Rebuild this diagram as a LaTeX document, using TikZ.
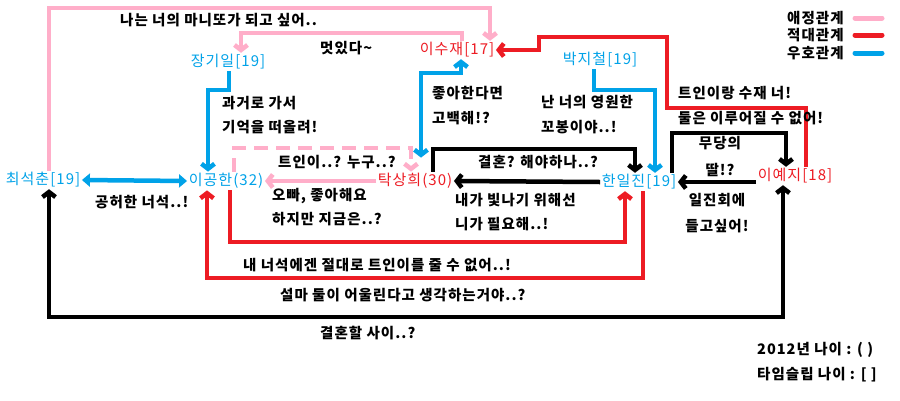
\documentclass[tikz,border=0pt]{standalone}
\usepackage{fontspec}
\setmainfont{Noto Sans CJK KR}[LetterSpace=7]
\usetikzlibrary{arrows.meta}
\definecolor{pk}{HTML}{FFAEC9}
\definecolor{rd}{HTML}{ED1C24}
\definecolor{bl}{HTML}{00A2E8}
\begin{document}
\begin{tikzpicture}[x=1pt,y=-1pt,
  lbl/.style={font=\fontsize{14.5}{16}\selectfont\bfseries, inner sep=0pt, anchor=west},
  clbl/.style={lbl, anchor=center},
  who/.style={font=\fontsize{15}{17}\selectfont, inner sep=1.5pt},
  conn/.style={line width=4.5pt},
  tipend/.style={-{Straight Barb[length=5pt,width=13pt]}},
  tipboth/.style={{Straight Barb[length=5pt,width=13pt]}-{Straight Barb[length=5pt,width=13pt]}},
  tri/.style={{Triangle[length=8pt,width=13pt]}-{Triangle[length=8pt,width=13pt]}},
  pkline/.style={conn, draw=pk},
  rdline/.style={conn, draw=rd},
  blline/.style={conn, draw=bl},
  bkline/.style={conn, draw=black},
  legline/.style={line width=5pt, line cap=round}
]
\useasboundingbox (0,0) rectangle (900,400);
\fill[white] (0,0) rectangle (900,400);

% people
\node[who, text=rd] (suj)  at (457,50)  {이수재[17]};
\node[who, text=bl] (jang) at (228,62)  {장기일[19]};
\node[who, text=bl] (park) at (600,60)  {박지철[19]};
\node[who, text=bl] (choi) at (43,180)  {최석춘[19]};
\node[who, text=bl] (gong) at (226,181) {이공한(32)};
\node[who, text=rd] (tak)  at (415,181) {탁상희(30)};
\node[who, text=bl] (han)  at (639,182) {한일진[19]};
\node[who, text=rd] (yeji) at (795,176) {이예지[18]};

% connectors
\draw[pkline, tipend] (choi.north -| 49,0) -- (49,8) -- (490,8) -- (suj.north -| 490,0);
\draw[pkline, tipend] (suj.north -| 462,0) -- (462,33) -- (241,33) -- (jang.north -| 241,0);
\draw[blline, tipend] (jang.south -| 229,0) -- (229,90) -- (208,90) -- (gong.north -| 208,0);
\draw[blline, tipboth, shorten >=14pt] (suj.south -| 461,0) -- (461,73) -- (421,73) -- (tak.north -| 421,0);
\draw[pkline, dashed, dash pattern=on 14pt off 8pt, tipend] (gong.north -| 234,0) -- (234,148) -- (411,148) -- (tak.north -| 411,0);
\draw[pkline, tipend] (tak.west) -- (gong.east);
\draw[bkline, tipend] (tak.north -| 433,0) -- (433,149) -- (635,149) -- (han.north -| 635,0);
\draw[bkline, tipend] (han.west) -- (tak.east);
\draw[blline, tipend] (park.south -| 594,0) -- (594,90) -- (655,90) -- (han.north -| 655,0);
\draw[rdline, tipend] (yeji.north -| 806,0) -- (806,108) -- (667,108) -- (667,37) -- (539,37) -- (539,50) -- (suj.east);
\draw[bkline, tipend] (han.north -| 672,0) -- (672,133) -- (786,133) -- (yeji.north -| 786,0);
\draw[bkline, tipend] (yeji.west |- han.east) -- (han.east);
\draw[rdline, tipend] (gong.south -| 230,0) -- (230,242) -- (625,242) -- (han.south -| 625,0);
\draw[rdline, tipend] (han.south -| 643,0) -- (643,278) -- (207,278) -- (gong.south -| 207,0);
\draw[bkline, tipboth] (yeji.south -| 783,0) -- (783,317) -- (49,317) -- (choi.south -| 49,0);
\draw[blline, tri] (choi.east) -- (gong.west);

% labels
\node[lbl] (l1) at (120,20) {나는 너의 마니또가 되고 싶어..};
\node[lbl] (l2) at (320,48) {멋있다\textasciitilde};
\node[lbl] (l3a) at (222,103) {과거로 가서};
\node[lbl] (l3b) at (222,127) {기억을 떠올려!};
\node[lbl] (l4a) at (432,93) {좋아한다면};
\node[lbl] (l4b) at (432,118) {고백해!?};
\node[lbl] (l5a) at (541,102) {난 너의 영원한};
\node[lbl] (l5b) at (541,127) {꼬봉이야..!};
\node[lbl] (l6a) at (678,93) {트인이랑 수재 너!};
\node[lbl] (l6b) at (678,118) {둘은 이루어질 수 없어!};
\node[lbl] (l7) at (278,162) {트인이..? 누구..?};
\node[lbl] (l8) at (478,162) {결혼? 해야하나..?};
\node[clbl] (l9a) at (720,143) {무당의};
\node[clbl] (l9b) at (720,170) {딸!?};
\node[lbl] (l10) at (95,202) {공허한 너석..!};
\node[lbl] (l11a) at (272,196) {오빠, 좋아해요};
\node[lbl] (l11b) at (272,219) {하지만 지금은..?};
\node[lbl] (l12a) at (455,200) {내가 빛나기 위해선};
\node[lbl] (l12b) at (455,224) {니가 필요해..!};
\node[clbl] (l13a) at (717,200) {일진회에};
\node[clbl] (l13b) at (717,226) {들고싶어!};
\node[lbl] (l14) at (243,265) {내 너석에겐 절대로 트인이를 줄 수 없어..!};
\node[lbl] (l15) at (280,295) {설마 둘이 어울린다고 생각하는거야..?};
\node[lbl] (l16) at (320,333) {결혼할 사이..?};
\node[lbl] (n1) at (757,350) {2012년 나이 : ( )};
\node[lbl] (n2) at (757,375) {타임슬립 나이 : [ ]};

% legend
\node[lbl] (g1) at (787,18) {애정관계};
\node[lbl] (g2) at (787,35) {적대관계};
\node[lbl] (g3) at (787,53) {우호관계};
\coordinate (g1s) at (855,18);
\coordinate (g2s) at (855,35);
\coordinate (g3s) at (855,53);
\coordinate (g1e) at (882,18);
\coordinate (g2e) at (882,35);
\coordinate (g3e) at (882,53);
\draw[legline, pk] (g1s) -- (g1e);
\draw[legline, rd] (g2s) -- (g2e);
\draw[legline, bl] (g3s) -- (g3e);
\end{tikzpicture}
\end{document}
